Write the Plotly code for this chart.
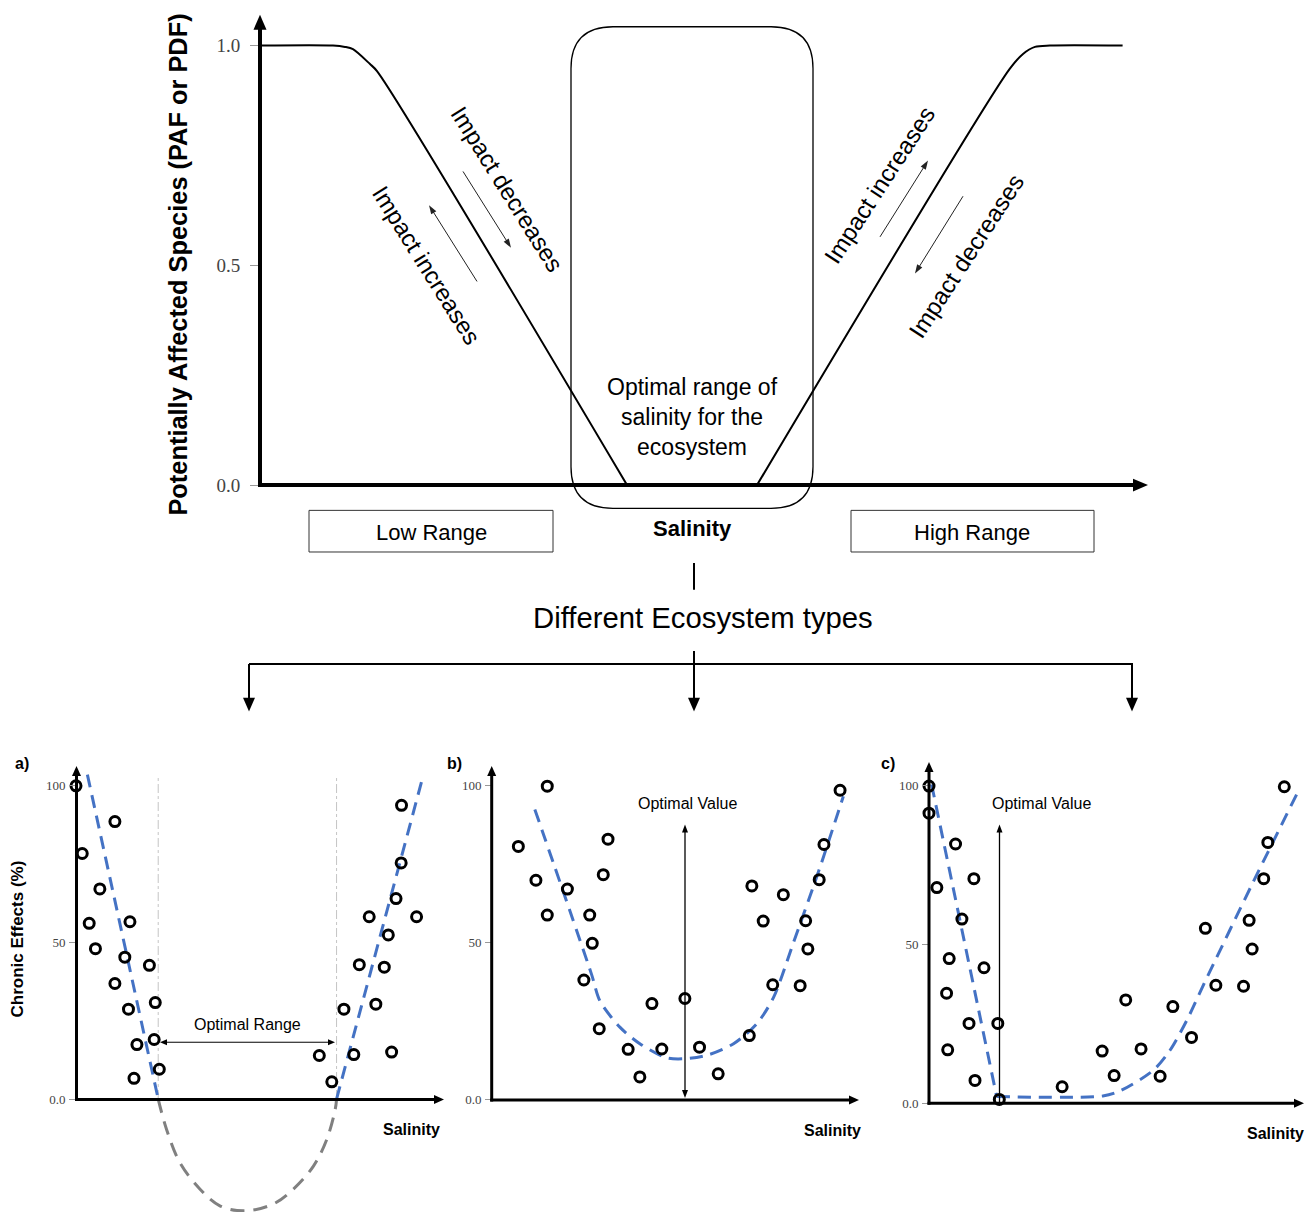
import plotly.graph_objects as go
import math

W, H = 1305, 1223

# ---------------- data ----------------
# Main schematic: potentially affected species vs salinity
main_low_x = [0.0, 0.823, 0.958, 1.048, 1.24, 1.319, 4.138]
main_low_y = [1.0, 1.0, 0.997, 0.992, 0.958, 0.942, 0.0]
main_high_x = [5.603, 8.452, 8.602, 8.737, 8.906, 9.725]
main_high_y = [0.0, 0.947, 0.981, 0.997, 1.0, 1.0]
main_yticks = [0.0, 0.5, 1.0]
main_yticklabels = ["0.0", "0.5", "1.0"]

panel_yticks = [0, 50, 100]
panel_yticklabels = ["0.0", "50", "100"]

# Panel a) optimal range
a_x = [0.0, 0.17, 1.06, 0.65, 0.36, 1.47, 0.53, 1.33, 2.00, 1.06, 1.43, 2.16, 1.66, 2.13, 1.58, 2.27,
       8.87, 8.86, 8.72, 7.99, 9.28, 8.51, 7.72, 8.40, 7.30, 8.17, 6.63, 7.57, 8.60, 6.97]
a_y = [100, 78.4, 88.6, 67.1, 56.1, 56.6, 48.0, 45.3, 42.7, 36.9, 28.7, 30.8, 17.4, 19.0, 6.6, 9.5,
       93.8, 75.4, 64.0, 58.2, 58.2, 52.4, 42.9, 42.1, 28.7, 30.3, 13.9, 14.2, 15.0, 5.5]
a_fit_low_x = [0.31, 2.24]
a_fit_low_y = [103.6, 0.0]
a_fit_high_x = [7.10, 9.42]
a_fit_high_y = [0.0, 101.5]
a_ext_x = [2.24, 2.47, 2.83, 3.38, 3.92, 4.60, 5.38, 5.92, 6.47, 6.83, 7.06, 7.10]
a_ext_y = [0.0, -9.8, -20.3, -28.8, -34.1, -35.7, -33.5, -28.8, -21.4, -13.0, -3.5, 0.0]
a_range_bounds = [2.24, 7.10]
a_range_top = 102.5

# Panel b) optimal value
b_x = [1.51, 0.72, 3.17, 1.20, 2.06, 3.04, 1.51, 2.67, 2.74, 2.51, 2.93, 4.37, 5.27, 3.72, 4.64,
       4.04, 5.67, 6.18, 7.03, 7.67, 8.42, 7.10, 7.96, 7.41, 8.57, 8.63, 8.94, 9.07, 9.51]
b_y = [99.9, 80.7, 83.0, 69.9, 67.1, 71.7, 58.8, 58.8, 49.8, 38.1, 22.6, 30.6, 32.2, 16.0, 16.1,
       7.2, 16.7, 8.2, 20.4, 36.6, 36.3, 68.1, 65.3, 56.9, 57.0, 48.0, 70.1, 81.3, 98.6]
b_fit_x = [1.17, 2.72, 2.95, 3.50, 4.04, 4.77, 5.27, 5.87, 6.60, 7.23, 7.69, 8.23, 8.96, 9.60]
b_fit_y = [92.5, 39.9, 31.4, 23.0, 17.8, 13.3, 13.0, 14.1, 17.8, 24.1, 32.5, 49.8, 74.0, 96.7]

# Panel c) optimal value at low salinity
c_x = [0.0, 0.0, 0.71, 0.21, 1.20, 0.88, 0.54, 1.47, 0.47, 1.07, 1.84, 0.50, 1.23, 1.88, 3.56,
       4.63, 4.95, 5.26, 5.67, 6.18, 6.52, 7.02, 7.67, 8.41, 7.39, 8.56, 8.64, 8.95, 9.06, 9.50]
c_y = [99.7, 91.2, 81.5, 67.8, 70.6, 57.9, 45.5, 42.6, 34.6, 25.1, 25.1, 16.8, 7.2, 1.2, 5.2,
       16.4, 8.7, 32.5, 17.1, 8.5, 30.4, 20.7, 37.1, 36.8, 55.0, 57.5, 48.5, 70.6, 82.0, 99.5]
c_fit_low_x = [0.07, 1.81]
c_fit_low_y = [100.2, 2.1]
c_fit_high_x = [1.81, 4.65, 5.11, 6.00, 6.44, 6.89, 7.33, 8.67, 9.92]
c_fit_high_y = [2.1, 2.3, 3.9, 10.4, 16.6, 26.0, 37.0, 69.6, 99.2]

# ---------------- helpers (pixel -> paper) ----------------
def PX(x):
    return x / W


def PY(y):
    return 1 - y / H


shapes = []
annotations = []

SANS = "Liberation Sans, Arial, sans-serif"
SERIF = "Liberation Serif, Times New Roman, serif"


def seg(x0, y0, x1, y1, w=1, color="black", dash=None):
    ln = dict(color=color, width=w)
    if dash:
        ln["dash"] = dash
    shapes.append(dict(type="line", xref="paper", yref="paper",
                       x0=PX(x0), y0=PY(y0), x1=PX(x1), y1=PY(y1), line=ln, layer="above"))


def head(tx, ty, fx, fy, L=10, Wd=8, color="black"):
    dx, dy = tx - fx, ty - fy
    n = math.hypot(dx, dy)
    ux, uy = dx / n, dy / n
    bx, by = tx - ux * L, ty - uy * L
    nx, ny = -uy, ux
    p1 = (bx + nx * Wd / 2, by + ny * Wd / 2)
    p2 = (bx - nx * Wd / 2, by - ny * Wd / 2)
    path = "M {} {} L {} {} L {} {} Z".format(PX(tx), PY(ty), PX(p1[0]), PY(p1[1]), PX(p2[0]), PY(p2[1]))
    shapes.append(dict(type="path", xref="paper", yref="paper", path=path,
                       fillcolor=color, line=dict(width=0), layer="above"))


def arrow(x0, y0, x1, y1, w=1, L=10, Wd=8, color="black", both=False):
    n = math.hypot(x1 - x0, y1 - y0)
    ux, uy = (x1 - x0) / n, (y1 - y0) / n
    sx, sy = x0, y0
    if both:
        sx, sy = x0 + ux * (L - 2), y0 + uy * (L - 2)
        head(x0, y0, x1, y1, L, Wd, color)
    seg(sx, sy, x1 - ux * (L - 2), y1 - uy * (L - 2), w, color)
    head(x1, y1, x0, y0, L, Wd, color)


def rect(x0, y0, x1, y1, w=1, color="#333"):
    shapes.append(dict(type="rect", xref="paper", yref="paper",
                       x0=PX(x0), y0=PY(y0), x1=PX(x1), y1=PY(y1),
                       line=dict(color=color, width=w), layer="above"))


def rrect(x0, y0, x1, y1, r, w=1.3, color="black"):
    pts = [("M", [(x0 + r, y0)]), ("L", [(x1 - r, y0)]), ("Q", [(x1, y0), (x1, y0 + r)]),
           ("L", [(x1, y1 - r)]), ("Q", [(x1, y1), (x1 - r, y1)]), ("L", [(x0 + r, y1)]),
           ("Q", [(x0, y1), (x0, y1 - r)]), ("L", [(x0, y0 + r)]), ("Q", [(x0, y0), (x0 + r, y0)])]
    s = ""
    for cmd, ps in pts:
        s += cmd + " " + " ".join("{} {}".format(PX(a), PY(b)) for a, b in ps) + " "
    s += "Z"
    shapes.append(dict(type="path", xref="paper", yref="paper", path=s,
                       line=dict(color=color, width=w), layer="above"))


def text(x, y, t, size, bold=False, angle=0, color="black", family=SANS):
    if bold:
        t = "<b>" + t + "</b>"
    annotations.append(dict(xref="paper", yref="paper", x=PX(x), y=PY(y), text=t,
                            showarrow=False, xanchor="center", yanchor="middle",
                            textangle=angle, font=dict(size=size, color=color, family=family)))


# ---------------- figure ----------------
fig = go.Figure()

# Main curve
for xs, ys in [(main_low_x, main_low_y), (main_high_x, main_high_y)]:
    fig.add_trace(go.Scatter(x=xs, y=ys, mode="lines", xaxis="x", yaxis="y",
                             line=dict(color="black", width=2, shape="spline", smoothing=0.8),
                             showlegend=False, hoverinfo="skip"))

BLUE = "#4472C4"
marker = dict(symbol="circle-open", size=10, color="black", line=dict(width=3, color="black"))

# Panel a
for xb in a_range_bounds:
    fig.add_trace(go.Scatter(x=[xb, xb], y=[0, a_range_top], mode="lines", xaxis="x2", yaxis="y2",
                             line=dict(color="#c4c4c4", width=1, dash="dashdot"), showlegend=False))
fig.add_trace(go.Scatter(x=a_ext_x, y=a_ext_y, mode="lines", xaxis="x2", yaxis="y2",
                         line=dict(color="#808080", width=3, dash="14px,9px", shape="spline"), showlegend=False))
for xs, ys in [(a_fit_low_x, a_fit_low_y), (a_fit_high_x, a_fit_high_y)]:
    fig.add_trace(go.Scatter(x=xs, y=ys, mode="lines", xaxis="x2", yaxis="y2",
                             line=dict(color=BLUE, width=3, dash="13px,8px"), showlegend=False))
fig.add_trace(go.Scatter(x=a_x, y=a_y, mode="markers", xaxis="x2", yaxis="y2", marker=marker,
                         cliponaxis=False, showlegend=False))

# Panel b
fig.add_trace(go.Scatter(x=b_fit_x, y=b_fit_y, mode="lines", xaxis="x3", yaxis="y3",
                         line=dict(color=BLUE, width=3, dash="13px,8px", shape="spline", smoothing=0.8),
                         showlegend=False))
fig.add_trace(go.Scatter(x=b_x, y=b_y, mode="markers", xaxis="x3", yaxis="y3", marker=marker,
                         cliponaxis=False, showlegend=False))

# Panel c
fig.add_trace(go.Scatter(x=c_fit_low_x, y=c_fit_low_y, mode="lines", xaxis="x4", yaxis="y4",
                         line=dict(color=BLUE, width=3, dash="13px,8px"), showlegend=False))
fig.add_trace(go.Scatter(x=c_fit_high_x, y=c_fit_high_y, mode="lines", xaxis="x4", yaxis="y4",
                         line=dict(color=BLUE, width=3, dash="13px,8px", shape="spline", smoothing=0.8),
                         showlegend=False))
fig.add_trace(go.Scatter(x=c_x, y=c_y, mode="markers", xaxis="x4", yaxis="y4", marker=marker,
                         cliponaxis=False, showlegend=False))

# ---------------- decorations ----------------
# main axes
seg(260, 490, 260, 28, w=4)
head(260, 15, 260, 100, L=15, Wd=13)
seg(258, 489.5, 1135, 489.5, w=4)
head(1148, 489.5, 1000, 489.5, L=15, Wd=13)

rrect(571, 27, 813, 513, 42)
rect(309, 515, 553, 557, w=1)
rect(851, 515, 1094, 557, w=1)

# thin arrows next to the slopes
arrow(463, 173, 511, 250, w=1, L=9, Wd=6, color="#222")
arrow(477, 284, 429, 207, w=1, L=9, Wd=6, color="#222")
arrow(880, 239, 928, 162, w=1, L=9, Wd=6, color="#222")
arrow(963, 198, 915, 276, w=1, L=9, Wd=6, color="#222")

# connectors
seg(694, 568, 694, 595, w=2)
seg(249, 670, 1133, 670, w=2)
seg(694, 657, 694, 706, w=2)
for xx in [249, 694, 1132]:
    seg(xx, 670, xx, 706, w=2)
    head(xx, 718, xx, 600, L=14, Wd=12)

# panel axes
for (ax_x, ax_y, top, right) in [(76.5, 1109.5, 773, 444), (491.7, 1110, 773, 859), (929, 1113.3, 769, 1304)]:
    seg(ax_x, ax_y + 1.5, ax_x, top + 8, w=3)
    head(ax_x, top, ax_x, top + 50, L=10, Wd=9)
    seg(ax_x - 1.5, ax_y, right - 8, ax_y, w=3)
    head(right, ax_y, right - 50, ax_y, L=10, Wd=9)

# panel a optimal range arrow
arrow(160, 1051.7, 335, 1051.7, w=1, L=7, Wd=6, both=True)
# panel b optimal value arrow
arrow(685, 1108, 685, 832, w=1.3, L=8, Wd=6, both=True)
# panel c optimal value arrow
arrow(999.5, 1112, 999.5, 832, w=1.3, L=8, Wd=6)

# ---------------- texts ----------------
text(178, 267, "Potentially Affected Species (PAF or PDF)", 25.4, bold=True, angle=-90)
text(507, 190, "Impact decreases", 24, angle=58)
text(426, 267, "Impact increases", 24, angle=58)
text(879, 187, "Impact increases", 24, angle=-57)
text(966, 259, "Impact decreases", 24, angle=-57)
text(692, 421, "Optimal range of<br>salinity for the<br>ecosystem", 23)
text(693, 533, "Salinity", 22, bold=True)
text(431, 537, "Low Range", 22)
text(972, 537, "High Range", 22)
text(703, 623, "Different Ecosystem types", 29.3)

text(22, 770, "a)", 16, bold=True)
text(454, 770, "b)", 16, bold=True)
text(888, 770, "c)", 16, bold=True)
text(17, 948, "Chronic Effects (%)", 17, bold=True, angle=-90)
text(411, 1140, "Salinity", 16, bold=True)
text(832, 1141, "Salinity", 16, bold=True)
text(1275, 1144, "Salinity", 16, bold=True)
text(248, 1034, "Optimal Range", 16)
text(687, 811, "Optimal Value", 16)
text(1041, 811, "Optimal Value", 16)

# ---------------- axes ----------------
def xax(d0, d1, anchor):
    return dict(domain=[PX(d0), PX(d1)], range=[0, 10], anchor=anchor, showgrid=False, zeroline=False,
                showline=False, showticklabels=False, ticks="", fixedrange=True)


def yax(zero_px, scale, top_px, bottom_px, anchor, tv, tt, size, tlen, standoff):
    return dict(domain=[PY(bottom_px), PY(top_px)],
                range=[(zero_px - bottom_px) / scale, (zero_px - top_px) / scale],
                anchor=anchor, showgrid=False, zeroline=False, showline=False,
                tickmode="array", tickvals=tv, ticktext=tt, ticks="outside", ticklen=tlen,
                tickcolor="#999", tickwidth=1, ticklabelstandoff=standoff,
                tickfont=dict(family=SERIF, size=size, color="#444"), fixedrange=True)


layout = dict(
    width=W, height=H, autosize=False,
    margin=dict(l=0, r=0, t=0, b=0),
    paper_bgcolor="white", plot_bgcolor="rgba(0,0,0,0)",
    showlegend=False,
    shapes=shapes, annotations=annotations,
    xaxis=xax(260, 1147, "y"),
    yaxis=yax(489.5, 443.5, 16, 489.5, "x", main_yticks, main_yticklabels, 19, 9, 6),
    xaxis2=xax(76, 443, "y2"),
    yaxis2=yax(1109.0, 3.16, 770, 1223, "x2", panel_yticks, panel_yticklabels, 13, 6, 1),
    xaxis3=xax(492, 858, "y3"),
    yaxis3=yax(1109.5, 3.165, 770, 1223, "x3", panel_yticks, panel_yticklabels, 13, 6, 1),
    xaxis4=xax(929, 1303, "y4"),
    yaxis4=yax(1113.3, 3.21, 770, 1223, "x4", panel_yticks, panel_yticklabels, 13, 6, 1),
)
fig.update_layout(**layout)
fig.write_html(
    "out.html",
    config={"displayModeBar": False},
    post_script="document.body.style.margin='0px';document.body.style.overflow='hidden';",
)
